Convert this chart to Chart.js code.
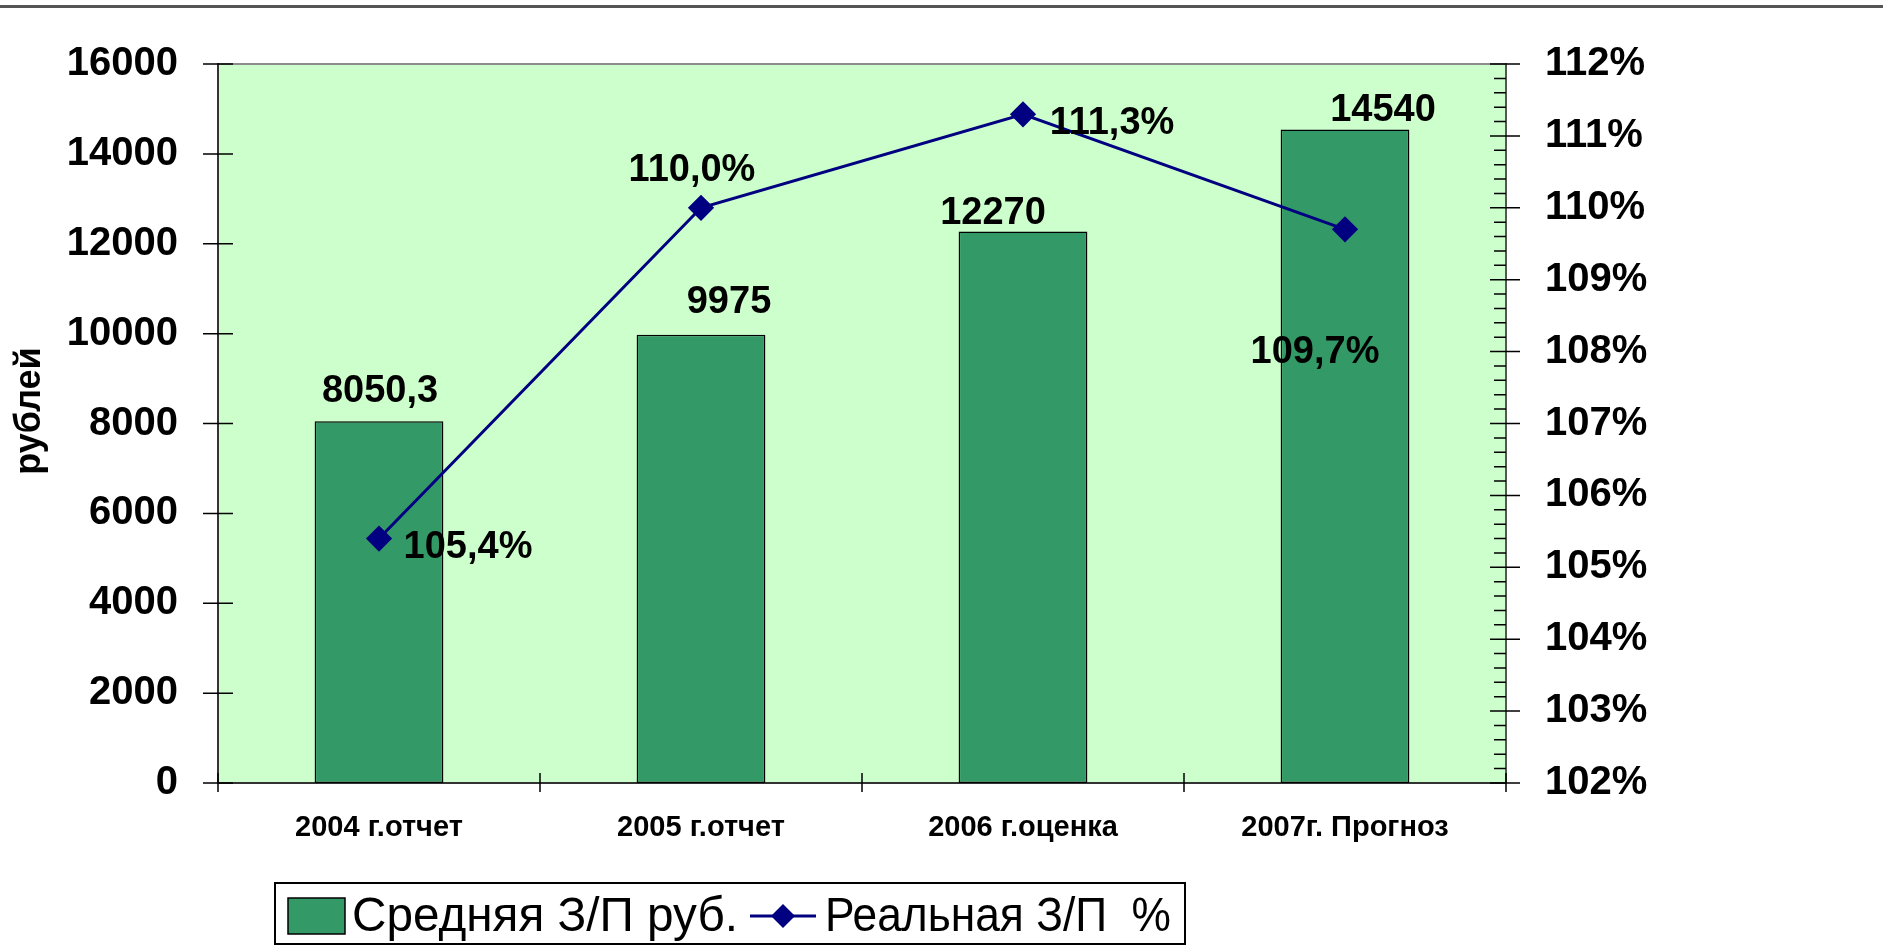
<!DOCTYPE html>
<html>
<head>
<meta charset="utf-8">
<script src="https://cdn.jsdelivr.net/npm/chart.js@4.4.1/dist/chart.umd.min.js"></script>
<style>
  body { margin: 0; background: #fff; }
  #wrap { width: 1883px; height: 947px; position: relative; }
</style>
</head>
<body>
<div id="wrap"><canvas id="salaryChart"></canvas></div>
<script>
const categories = ['2004 г.отчет', '2005 г.отчет', '2006 г.оценка', '2007г. Прогноз'];
const avgSalary = [8050.3, 9975, 12270, 14540];
const realSalaryPct = [105.4, 110.0, 111.3, 109.7];
const seriesNames = ['Средняя З/П руб.', 'Реальная З/П  %'];
const rubAxis = [0, 16000, 2000];   // min, max, step
const pctAxis = [102, 112, 1];
const axisTitle = 'рублей';

const FONT = '"Liberation Sans", Arial, sans-serif';
Chart.defaults.font.family = FONT;
Chart.defaults.color = '#000';

// light green plot area, rule at the top of the slide, axis title
const plotDecor = {
  id: 'plotDecor',
  beforeDraw(chart) {
    const { ctx, chartArea: a } = chart;
    ctx.save();
    ctx.fillStyle = '#555';
    ctx.fillRect(0, 5, chart.width, 3);
    ctx.fillStyle = '#ccffcc';
    ctx.fillRect(a.left, a.top, a.width, a.height);
    ctx.strokeStyle = '#8c8c8c';
    ctx.lineWidth = 2;
    ctx.beginPath();
    ctx.moveTo(a.left, a.top);
    ctx.lineTo(a.right, a.top);
    ctx.stroke();

    ctx.translate(30, 411);
    ctx.rotate(-Math.PI / 2);
    ctx.font = 'bold 36px ' + FONT;
    ctx.fillStyle = '#000';
    ctx.textAlign = 'center';
    ctx.textBaseline = 'middle';
    ctx.fillText(axisTitle, 0, 0);
    ctx.restore();
  },
  afterDraw(chart) {
    // tick marks crossing the axes, like Excel draws them
    const { ctx, chartArea: a, scales } = chart;
    ctx.save();
    ctx.strokeStyle = '#000';
    ctx.lineWidth = 1.5;
    ctx.beginPath();
    scales.y.ticks.forEach(t => {
      const y = scales.y.getPixelForValue(t.value);
      ctx.moveTo(a.left - 15, y); ctx.lineTo(a.left + 15, y);
    });
    for (let v = pctAxis[0]; v <= pctAxis[1] + 0.001; v += 0.2) {
      const y = scales.y1.getPixelForValue(v);
      const major = Math.abs(v - Math.round(v)) < 0.01;
      ctx.moveTo(a.right - (major ? 16 : 12), y);
      ctx.lineTo(a.right + (major ? 14 : 0), y);
    }
    const n = categories.length;
    for (let i = 0; i <= n; i++) {
      const x = scales.x.left + i * scales.x.width / n;
      ctx.moveTo(x, a.bottom - 10); ctx.lineTo(x, a.bottom + 9);
    }
    ctx.stroke();
    ctx.restore();
  }
};

const valueLabels = {
  id: 'valueLabels',
  afterDatasetsDraw(chart, args, opts) {
    const ctx = chart.ctx;
    ctx.save();
    ctx.font = 'bold ' + opts.size + 'px ' + FONT;
    ctx.fillStyle = '#000';
    ctx.textAlign = 'center';
    ctx.textBaseline = 'alphabetic';
    chart.data.datasets.forEach((ds, di) => {
      const offs = opts.offsets[di];
      chart.getDatasetMeta(di).data.forEach((el, i) => {
        const v = ds.data[i];
        const txt = ds.type === 'line'
          ? v.toFixed(1).replace('.', ',') + '%'
          : String(v).replace('.', ',');
        ctx.fillText(txt, el.x + offs[i][0], el.y + offs[i][1] + opts.size * 0.36);
      });
    });
    ctx.restore();
  }
};

const boxLegend = {
  id: 'boxLegend',
  afterDraw(chart, args, o) {
    const ctx = chart.ctx;
    const [bars, line] = chart.data.datasets;
    const cy = 916;
    ctx.save();
    ctx.fillStyle = '#fff';
    ctx.fillRect(o.left, o.top, o.width, o.height);
    ctx.strokeStyle = '#000';
    ctx.lineWidth = 2;
    ctx.strokeRect(o.left, o.top, o.width, o.height);

    let x = o.left + 13;
    ctx.fillStyle = bars.backgroundColor;
    ctx.fillRect(x, cy - 18, 57, 36);
    ctx.lineWidth = 1.5;
    ctx.strokeRect(x, cy - 18, 57, 36);
    x += 64;

    ctx.font = o.size + 'px ' + FONT;
    ctx.fillStyle = '#000';
    ctx.textBaseline = 'middle';
    ctx.fillText(bars.label, x, cy + 2, 386);
    x += Math.min(386, ctx.measureText(bars.label).width) + 12;

    ctx.strokeStyle = line.borderColor;
    ctx.lineWidth = 3;
    ctx.beginPath();
    ctx.moveTo(x, cy); ctx.lineTo(x + 66, cy);
    ctx.stroke();
    ctx.fillStyle = line.pointBackgroundColor;
    ctx.beginPath();
    ctx.moveTo(x + 33, cy - 12); ctx.lineTo(x + 45, cy);
    ctx.lineTo(x + 33, cy + 12); ctx.lineTo(x + 21, cy);
    ctx.closePath();
    ctx.fill();
    x += 75;

    ctx.fillStyle = '#000';
    ctx.fillText(line.label, x, cy + 2, o.left + o.width - 14 - x);
    ctx.restore();
  }
};

new Chart(document.getElementById('salaryChart'), {
  data: {
    labels: categories,
    datasets: [
      {
        type: 'bar',
        label: seriesNames[0],
        data: avgSalary,
        yAxisID: 'y',
        backgroundColor: '#339966',
        borderColor: '#000',
        borderWidth: 1.5,
        borderSkipped: false,
        barPercentage: 0.4,
        categoryPercentage: 1,
        order: 1
      },
      {
        type: 'line',
        label: seriesNames[1],
        data: realSalaryPct,
        yAxisID: 'y1',
        borderColor: '#000080',
        borderWidth: 3,
        pointStyle: 'rectRot',
        pointRadius: 11,
        pointBackgroundColor: '#000080',
        pointBorderColor: '#000080',
        tension: 0,
        order: 0
      }
    ]
  },
  options: {
    responsive: true,
    maintainAspectRatio: false,
    animation: false,
    layout: { padding: { top: 55, left: 0, right: 0, bottom: 0 } },
    plugins: {
      legend: { display: false },
      tooltip: { enabled: false },
      valueLabels: {
        size: 38,
        offsets: [
          [[1, -33], [28, -35], [-30, -21], [38, -22]],
          [[89, 6], [-9, -40], [89, 6], [-30, 120]]
        ]
      },
      boxLegend: { left: 275, top: 883, width: 910, height: 61, size: 48 }
    },
    scales: {
      x: {
        grid: { display: false, drawTicks: false },
        border: { color: '#333', width: 2 },
        ticks: { font: { size: 29, weight: 'bold' }, padding: 28, maxRotation: 0 },
        afterFit: s => { s.height = 164; }
      },
      y: {
        position: 'left',
        min: rubAxis[0], max: rubAxis[1],
        grid: { display: false, drawTicks: false },
        border: { color: '#333', width: 2 },
        ticks: { stepSize: rubAxis[2], font: { size: 40, weight: 'bold' }, padding: 40, callback: v => String(v) },
        afterFit: s => { s.width = 218; }
      },
      y1: {
        position: 'right',
        min: pctAxis[0], max: pctAxis[1],
        grid: { display: false, drawTicks: false },
        border: { color: '#555', width: 2 },
        ticks: { stepSize: pctAxis[2], font: { size: 40, weight: 'bold' }, padding: 39, callback: v => v + '%' },
        afterFit: s => { s.width = 377; }
      }
    }
  },
  plugins: [plotDecor, valueLabels, boxLegend]
});
</script>
</body>
</html>
